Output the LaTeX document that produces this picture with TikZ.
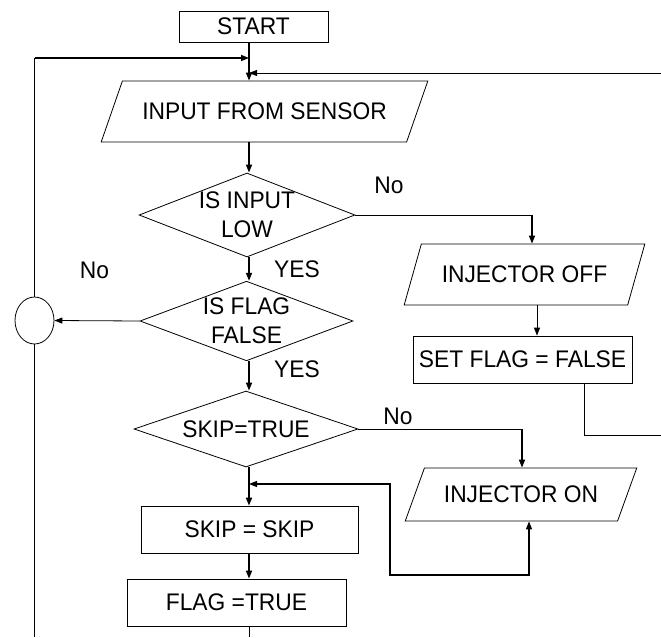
\documentclass[tikz,border=0pt]{standalone}
\usepackage{fontspec}
\setmainfont{Liberation Sans}[FakeStretch=0.95]
\usetikzlibrary{shapes.geometric,arrows.meta}

\begin{document}
\begin{tikzpicture}[x=1pt, y=-1pt,
		>={Triangle[length=8pt,width=6pt]},
		every node/.style={font=\fontsize{24}{29}\selectfont, inner sep=0pt},
		thin/.style={line width=0.8pt},
		bold/.style={line width=1.6pt},
		box/.style={draw, thin, rectangle, minimum height=47},
		io/.style={draw, thin, trapezium, trapezium stretches=true},
		test/.style={draw, thin, diamond, aspect=2.6, align=center}]
		\useasboundingbox (0,0) rectangle (661,637);
		
		% Main column
		\coordinate (m) at (249,0);
		\node[box, minimum width=149, minimum height=31] (start) at (253.5,26.5) {START};
		\node[io, trapezium left angle=43, trapezium right angle=137, minimum width=327, minimum height=61] (inp) at (264.5,111.5) {INPUT FROM SENSOR};
		\node[test, minimum width=213, minimum height=84] (low) at (247,215) {IS INPUT\\LOW};
		\node[test, minimum width=213, minimum height=78] (flag) at (246.5,321) {IS FLAG\\FALSE};
		\node[test, minimum width=224, minimum height=76] (skip) at (246,429) {SKIP=TRUE};
		\node[box, minimum width=217] (skipset) at (249.5,529.5) {SKIP = SKIP};
		\node[box, minimum width=219] (flagset) at (236.5,602.5) {FLAG =TRUE};
		
		% Right column
		\node[io, trapezium left angle=51, trapezium right angle=129, minimum width=241, minimum height=61] (off) at (524.5,274.5) {INJECTOR OFF};
		\node[box, minimum width=219] (clear) at (522.5,359.5) {SET FLAG = FALSE};
		\node[io, trapezium left angle=48, trapezium right angle=132, minimum width=232, minimum height=53] (on) at (521,494.5) {INJECTOR ON};
		
		% Connector
		\node[draw, thin, ellipse, minimum width=39, minimum height=47] (conn) at (34.5,320.5) {};
		
		% Flow down the main column
		\draw[bold, ->] (start.south -| m) -- (inp.north -| m);
		\draw[bold, ->] (inp.south -| m) -- (low.north -| m);
		\draw[bold, ->] (low.south -| m) -- (flag.north -| m);
		\draw[bold, ->] (flag.south -| m) -- (skip.north -| m);
		\draw[bold, ->] (skip.south -| m) -- (skipset.north -| m);
		\draw[bold, ->] (skipset.south -| m) -- (flagset.north -| m);
		\coordinate (fb) at (0,637);
		\draw[thin] (flagset.south -| m) -- (fb -| m);
		\node (yes1) at (297,269.5) {YES};
		\node (yes2) at (297,369) {YES};
		
		% No: injector off
		\coordinate (c1) at (532,0);
		\draw[thin] (low.east) -- (low.east -| c1);
		\draw[bold, ->] (low.east -| c1) -- (off.north -| c1);
		\node (no1) at (389,185) {No};
		\coordinate (c2) at (537,0);
		\draw[thin, ->] (off.south -| c2) -- (clear.north -| c2);
		
		% Back to the top
		\coordinate (c3) at (584,0);
		\coordinate (re) at (661,435);
		\draw[thin] (clear.south -| c3) |- (re);
		\coordinate (rt) at (661,73);
		\draw[thin, ->] (rt) -- (rt -| m);
		
		% No: flag not false
		\draw[thin, ->] (flag.west) -- (conn.east);
		\node (no2) at (94.5,270) {No};
		\coordinate (lt) at (0,58);
		\draw[thin] (conn.north) -- (conn.north |- lt);
		\draw[bold, ->] (conn.north |- lt) -- (lt -| m);
		\draw[thin] (conn.south) -- (conn.south |- fb);
		
		% No: injector on
		\coordinate (c4) at (522,0);
		\draw[thin] (skip.east) -- (skip.east -| c4);
		\draw[bold, ->] (skip.east -| c4) -- (on.north -| c4);
		\node (no3) at (398,416) {No};
		\coordinate (c5) at (529,0);
		\coordinate (c6) at (390,484);
		\coordinate (c7) at (0,575);
		\draw[line width=1.2pt, <->] (c6 -| m) -- (c6) |- (c7 -| c5) -- (on.south -| c5);
	\end{tikzpicture}
\end{document}
